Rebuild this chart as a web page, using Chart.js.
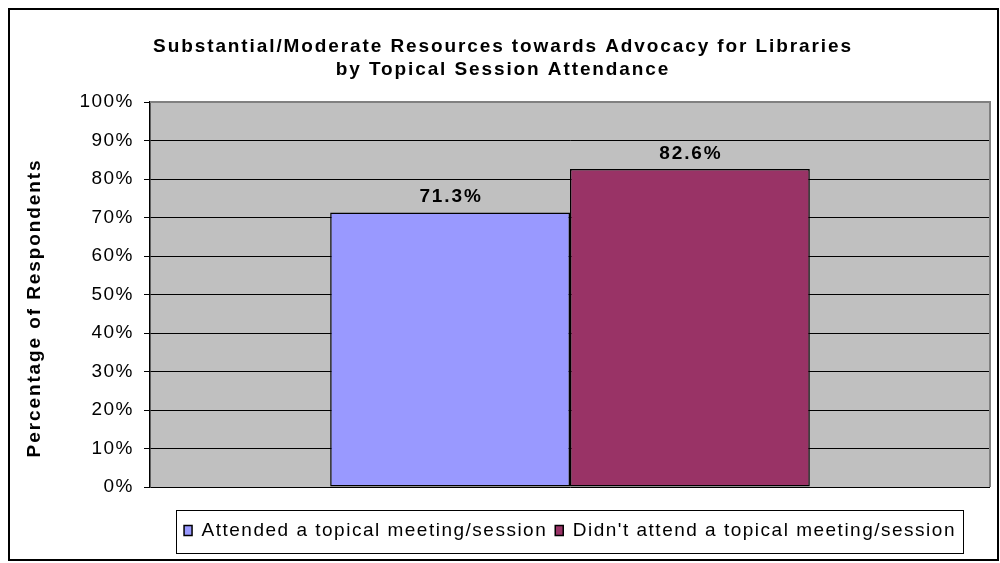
<!DOCTYPE html>
<html>
<head>
<meta charset="utf-8">
<script src="https://cdn.jsdelivr.net/npm/chart.js@4/dist/chart.umd.min.js"></script>
<style>
  html, body { margin: 0; padding: 0; background: #fff; }
  #wrap { width: 1000px; height: 563px; }
</style>
</head>
<body>
<div id="wrap"><canvas id="resourceChart" width="1000" height="563"></canvas></div>
<script>
// chart data
const categories = [''];
const seriesNames = ['Attended a topical meeting/session', "Didn't attend a topical meeting/session"];
const seriesValues = [71.3, 82.6];
const yTicks = [0, 10, 20, 30, 40, 50, 60, 70, 80, 90, 100];
const titleLines = ['Substantial/Moderate Resources towards Advocacy for Libraries', 'by Topical Session Attendance'];
const yAxisTitle = 'Percentage of Respondents';

const FONT = '"Liberation Sans", Arial, sans-serif';
const barColors = ['#9999FF', '#993366'];
const SPACING = '1.5px';      // the old Excel export has wide letter spacing
const BOLD_SPACING = '1.9px';

// wide letter spacing for everything Chart.js draws (ticks, legend)
const spacingPlugin = {
    id: 'spacing',
    beforeUpdate(chart) { chart.ctx.letterSpacing = SPACING; },
    beforeDraw(chart) { chart.ctx.letterSpacing = SPACING; }
};

// grey plot background, frames, titles
const framePlugin = {
    id: 'frame',
    beforeDraw(chart) {
        const ctx = chart.ctx;
        const { left, top, right, bottom } = chart.chartArea;
        ctx.save();
        ctx.fillStyle = '#C0C0C0';
        ctx.fillRect(left, top, right - left, bottom - top);
        ctx.restore();
    },
    afterDraw(chart) {
        const ctx = chart.ctx;
        const { left, top, right, bottom } = chart.chartArea;
        ctx.save();
        // plot area border (grey top/right)
        ctx.strokeStyle = '#808080';
        ctx.lineWidth = 2;
        ctx.beginPath();
        ctx.moveTo(left, top);
        ctx.lineTo(right, top);
        ctx.lineTo(right, bottom);
        ctx.stroke();

        // outer chart border
        ctx.strokeStyle = '#000';
        ctx.lineWidth = 2;
        ctx.strokeRect(9, 9, 989, 551);

        // legend frame around the items
        const boxes = chart.legend.legendHitBoxes;
        if (boxes && boxes.length) {
            const first = boxes[0];
            const last = boxes[boxes.length - 1];
            const midY = first.top + first.height / 2;
            const x0 = Math.round(first.left - 8) + 0.5;
            const x1 = Math.round(last.left + last.width + 7) + 0.5;
            ctx.lineWidth = 1;
            ctx.strokeRect(x0, Math.round(midY - 21) + 0.5, x1 - x0, 43);
        }

        // chart title and y-axis title
        ctx.fillStyle = '#000';
        ctx.letterSpacing = BOLD_SPACING;
        ctx.font = 'bold 19px ' + FONT;
        ctx.textAlign = 'center';
        ctx.textBaseline = 'middle';
        ctx.fillText(titleLines[0], 503, 47);
        ctx.fillText(titleLines[1], 503, 70);

        ctx.translate(35, 308);
        ctx.rotate(-Math.PI / 2);
        ctx.fillText(yAxisTitle, 0, 0);
        ctx.restore();
    }
};

// value labels above each bar
const valueLabels = {
    id: 'valueLabels',
    afterDatasetsDraw(chart) {
        const ctx = chart.ctx;
        ctx.save();
        ctx.letterSpacing = BOLD_SPACING;
        ctx.font = 'bold 19px ' + FONT;
        ctx.fillStyle = '#000';
        ctx.textAlign = 'center';
        ctx.textBaseline = 'alphabetic';
        chart.data.datasets.forEach((ds, i) => {
            chart.getDatasetMeta(i).data.forEach((bar, j) => {
                ctx.fillText(ds.data[j].toFixed(1) + '%', bar.x + 1, bar.y - 10);
            });
        });
        ctx.restore();
    }
};

const ctx = document.getElementById('resourceChart').getContext('2d');
new Chart(ctx, {
    type: 'bar',
    data: {
        labels: categories,
        datasets: seriesNames.map((name, i) => ({
            label: name,
            data: [seriesValues[i]],
            backgroundColor: barColors[i],
            borderColor: '#000',
            borderWidth: 1.5,
            borderSkipped: false,
            categoryPercentage: 0.571,
            barPercentage: 1.0
        }))
    },
    options: {
        responsive: false,
        animation: false,
        layout: {
            padding: { left: 0, right: 10, top: 102, bottom: 13 }
        },
        plugins: {
            legend: {
                position: 'bottom',
                fullSize: false,
                labels: {
                    color: '#000',
                    font: { family: FONT, size: 19 },
                    boxWidth: 8,
                    boxHeight: 10,
                    padding: 8
                }
            },
            tooltip: { enabled: false }
        },
        scales: {
            x: {
                grid: { display: false, drawTicks: false },
                border: { display: false },
                ticks: { display: false },
                afterFit(scale) { scale.height = 26; }
            },
            y: {
                min: 0,
                max: 100,
                afterBuildTicks(scale) {
                    scale.ticks = yTicks.map(v => ({ value: v }));
                },
                ticks: {
                    color: '#000',
                    font: { family: FONT, size: 19 },
                    padding: 10,
                    callback: v => v + '%'
                },
                grid: {
                    color: '#000',
                    lineWidth: 1,
                    tickLength: 6
                },
                border: { color: '#000', width: 1.5 },
                afterFit(scale) { scale.width = 150; }
            }
        }
    },
    plugins: [spacingPlugin, framePlugin, valueLabels]
});
</script>
</body>
</html>
